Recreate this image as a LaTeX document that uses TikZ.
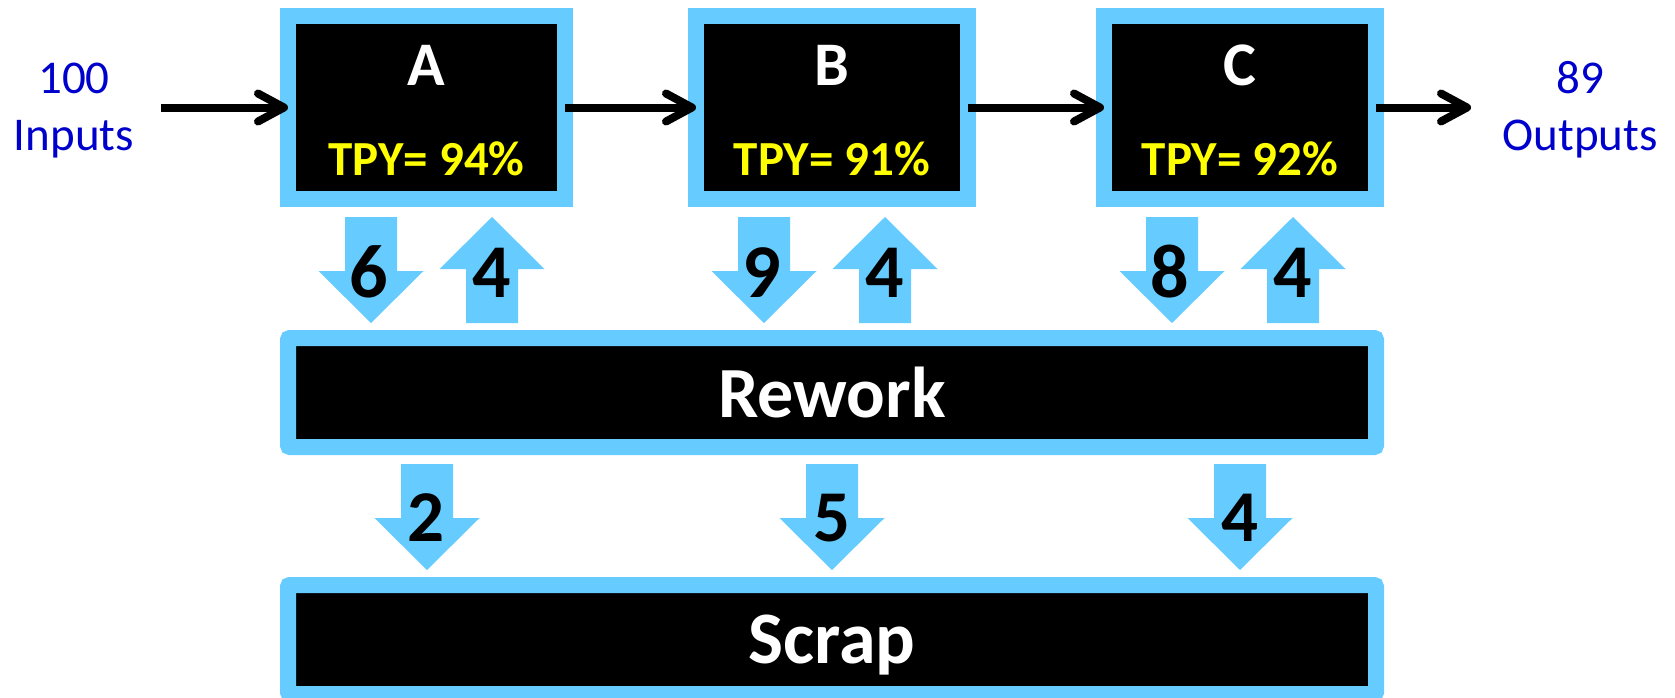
\documentclass[tikz,border=0pt]{standalone}
\usepackage{fontspec}
\setmainfont{Carlito}
\usetikzlibrary{arrows.meta}
\definecolor{lb}{RGB}{102,204,255}
\definecolor{tblue}{RGB}{0,0,204}
\definecolor{tyel}{RGB}{255,255,0}
\begin{document}
\begin{tikzpicture}[x=1pt,y=-1pt,
  stagebox/.style={draw=lb, fill=black, line width=16pt, inner sep=0pt, outer sep=0pt, minimum height=183pt},
  barbox/.style={draw=lb, fill=black, line width=16pt, inner sep=0pt, outer sep=0pt, minimum width=1088pt, minimum height=109pt, rounded corners=2pt},
  lettxt/.style={anchor=base, text=white, font=\fontsize{62}{62}\selectfont\bfseries, inner sep=0pt},
  tpytxt/.style={anchor=base, text=tyel, font=\fontsize{49}{49}\selectfont\bfseries, inner sep=0pt},
  bartxt/.style={anchor=base, text=white, font=\fontsize{72}{72}\selectfont\bfseries, inner sep=0pt},
  numtxt/.style={anchor=base, text=black, font=\fontsize{76}{76}\selectfont\bfseries, inner sep=0pt},
  numtxtb/.style={anchor=base, text=black, font=\fontsize{73}{73}\selectfont\bfseries, inner sep=0pt},
  bluetxt/.style={anchor=base, text=tblue, font=\fontsize{47}{47}\selectfont, inner sep=0pt},
  flow/.style={line width=8pt, -{Straight Barb[length=26pt,width=28pt,round]}},
  dnarr/.pic={\fill[lb] (-26,-106) -- (26,-106) -- (26,-52) -- (52.5,-52) -- (0,0) -- (-52.5,-52) -- (-26,-52) -- cycle;},
  uparr/.pic={\fill[lb] (0,0) -- (52.5,52) -- (26,52) -- (26,106) -- (-26,106) -- (-26,52) -- (-52.5,52) -- cycle;}
]
\useasboundingbox[fill=white] (0,0) rectangle (1675,697);

% stage boxes
\node[stagebox, minimum width=277pt] (A) at (426.5,107.5) {};
\node[stagebox, minimum width=272pt] (B) at (832,107.5) {};
\node[stagebox, minimum width=272pt] (C) at (1240,107.5) {};
\node[lettxt] (Al) at (426.5,85) {A};
\node[lettxt] (Bl) at (832,85) {B};
\node[lettxt] (Cl) at (1240,85) {C};
\node[tpytxt] (At) at (426.5,175) {TPY= 94\%};
\node[tpytxt] (Bt) at (832,175) {TPY= 91\%};
\node[tpytxt] (Ct) at (1240,175) {TPY= 92\%};

% rework and scrap
\node[barbox] (rw) at (832,392.5) {};
\node[bartxt] (rwt) at (832,417) {Rework};
\node[barbox] (sc) at (832,639.5) {};
\node[bartxt, font=\fontsize{74}{74}\selectfont\bfseries] (sct) at (832,663) {Scrap};

% inputs / outputs
\node[bluetxt] (in1) at (74,93) {100};
\node[bluetxt] (in2) at (74,150) {Inputs};
\node[bluetxt] (out1) at (1580,93) {89};
\node[bluetxt] (out2) at (1580,150) {Outputs};
\coordinate (inS) at (161,107.5);
\coordinate (outE) at (1471,107.5);

\draw[flow] (inS) -- (A.west);
\draw[flow] (A.east) -- (B.west);
\draw[flow] (B.east) -- (C.west);
\draw[flow] (C.east) -- (outE);

% block arrows row 1
\pic at (371,323) {dnarr};
\pic at (492,217) {uparr};
\pic at (764,323) {dnarr};
\pic at (885,217) {uparr};
\pic at (1172,323) {dnarr};
\pic at (1293,217) {uparr};
\node[numtxt] (n6) at (369,297) {6};
\node[numtxt] (n4a) at (492,297) {4};
\node[numtxt] (n9) at (762,297) {9};
\node[numtxt] (n4b) at (885,297) {4};
\node[numtxt] (n8) at (1170,297) {8};
\node[numtxt] (n4c) at (1293,297) {4};

% block arrows row 2
\pic at (427,570) {dnarr};
\pic at (832,570) {dnarr};
\pic at (1240,570) {dnarr};
\node[numtxtb] (n2) at (426,541) {2};
\node[numtxtb] (n5) at (832,541) {5};
\node[numtxtb] (n4d) at (1240,541) {4};
\end{tikzpicture}
\end{document}
